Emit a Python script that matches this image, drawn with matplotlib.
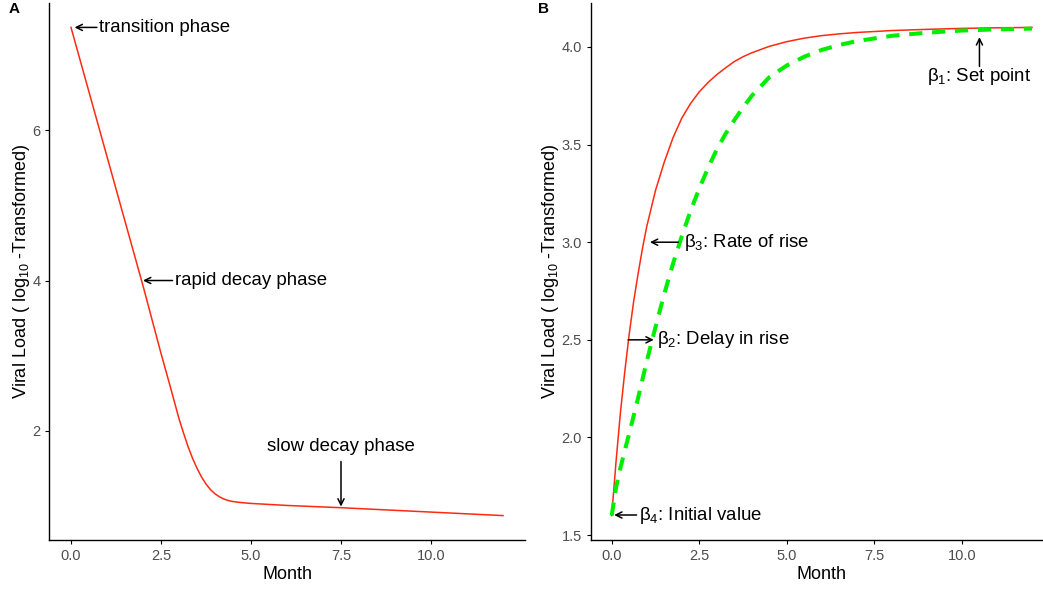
import matplotlib.pyplot as plt

plt.rcParams['font.family'] = ['Liberation Sans', 'DejaVu Sans']
plt.rcParams['mathtext.default'] = 'regular'
plt.rcParams['mathtext.fontset'] = 'dejavuserif'

# panel A : decay curve
month_a = [0, 0.5, 1.0, 1.5, 2.0, 2.5, 2.75, 3.0, 3.125, 3.25, 3.375, 3.5,
           3.625, 3.75, 3.875, 4.0, 4.125, 4.25, 4.375, 4.5, 4.75, 5.0,
           6.0, 7.5, 9.0, 10.5, 12.0]
load_a = [7.37, 6.51, 5.65, 4.79, 3.93, 3.03, 2.60, 2.16, 1.97, 1.79, 1.635, 1.50,
          1.385, 1.29, 1.215, 1.16, 1.12, 1.09, 1.07, 1.057, 1.042, 1.032,
          1.005, 0.975, 0.94, 0.905, 0.87]

# panel B : rise curves
month_b = [0, 0.125, 0.25, 0.375, 0.5, 0.625, 0.75, 0.875, 1.0, 1.25, 1.5, 1.75,
           2.0, 2.25, 2.5, 2.75, 3.0, 3.25, 3.5, 3.75, 4.0, 4.5, 5.0, 5.5,
           6.0, 6.5, 7.0, 8.0, 9.0, 10.0, 11.0, 12.0]
rise_fast = [1.60, 1.88, 2.13, 2.34, 2.53, 2.695, 2.835, 2.965, 3.08, 3.265, 3.41, 3.535,
             3.635, 3.71, 3.77, 3.818, 3.858, 3.893, 3.925, 3.95, 3.97, 4.003, 4.027, 4.045,
             4.058, 4.067, 4.074, 4.084, 4.09, 4.095, 4.098, 4.10]
rise_slow = [1.60, 1.745, 1.845, 1.935, 2.02, 2.11, 2.20, 2.295, 2.39, 2.565, 2.735, 2.89,
             3.03, 3.16, 3.275, 3.38, 3.475, 3.555, 3.625, 3.69, 3.75, 3.845, 3.905, 3.95,
             3.985, 4.01, 4.03, 4.057, 4.073, 4.084, 4.09, 4.094]

W, H = 1043, 589
fig = plt.figure(figsize=(W / 100, H / 100), dpi=100)

ylab = 'Viral Load ( log$_{10}$ -Transformed)'
tick_col = '#4D4D4D'
arrow = dict(arrowstyle='->', lw=1.1, color='black', shrinkA=0, shrinkB=0,
             mutation_scale=11)
fs = 13.4


def expand(vals, frac):
    lo, hi = min(vals), max(vals)
    pad = (hi - lo) * frac
    return lo - pad, hi + pad


def style(ax):
    for s in ['top', 'right']:
        ax.spines[s].set_visible(False)
    for s in ['left', 'bottom']:
        ax.spines[s].set_linewidth(1.0)
    ax.tick_params(colors='black', labelcolor=tick_col, labelsize=10.5,
                   length=3, width=0.8)
    ax.set_xlabel('Month', fontsize=13, labelpad=2)
    ax.set_ylabel(ylab, fontsize=13, labelpad=0.5)
    ax.set_xlim(expand(month_a, 0.05))
    ax.set_xticks([0, 2.5, 5.0, 7.5, 10.0])
    ax.set_xticklabels(['0.0', '2.5', '5.0', '7.5', '10.0'])


# ---- A
ax1 = fig.add_axes([49.4 / W, 49 / H, 475.2 / W, 537 / H])
ax1.plot(month_a, load_a, color='#FF2A0F', lw=1.1)
style(ax1)
ax1.set_ylim(expand(load_a, 0.05))
ax1.set_yticks([2, 4, 6])

ax1.annotate('', xy=(0.1, 7.37), xytext=(0.72, 7.37), arrowprops=arrow)
ax1.text(0.78, 7.37, 'transition phase', fontsize=fs, va='center', ha='left')
ax1.annotate('', xy=(2.0, 4.0), xytext=(2.82, 4.0), arrowprops=arrow)
ax1.text(2.9, 4.0, 'rapid decay phase', fontsize=fs, va='center', ha='left')
ax1.annotate('', xy=(7.5, 0.99), xytext=(7.5, 1.59), arrowprops=arrow)
ax1.text(7.5, 1.79, 'slow decay phase', fontsize=fs, va='center', ha='center')

# ---- B
ax2 = fig.add_axes([590.7 / W, 49 / H, 462.3 / W, 537 / H])
ax2.plot(month_b, rise_fast, color='#FF2A0F', lw=1.1)
ax2.plot(month_b, rise_slow, color='#00EE00', lw=2.9, dashes=(3.3, 2.4),
         dash_capstyle='butt')
style(ax2)
ax2.set_ylim(expand(rise_fast, 0.05))
ax2.set_yticks([1.5, 2.0, 2.5, 3.0, 3.5, 4.0])
ax2.set_yticklabels(['1.5', '2.0', '2.5', '3.0', '3.5', '4.0'])

ax2.annotate('', xy=(10.5, 4.05), xytext=(10.5, 3.90), arrowprops=arrow)
ax2.text(10.5, 3.85, r'$\beta_1$: Set point', fontsize=fs, va='center', ha='center')
ax2.annotate('', xy=(1.09, 3.0), xytext=(1.9, 3.0), arrowprops=arrow)
ax2.text(2.05, 3.0, r'$\beta_3$: Rate of rise', fontsize=fs, va='center', ha='left')
ax2.annotate('', xy=(1.2, 2.5), xytext=(0.47, 2.5), arrowprops=arrow)
ax2.text(1.3, 2.5, r'$\beta_2$: Delay in rise', fontsize=fs, va='center', ha='left')
ax2.annotate('', xy=(0.07, 1.603), xytext=(0.71, 1.603), arrowprops=arrow)
ax2.text(0.77, 1.603, r'$\beta_4$: Initial value', fontsize=fs, va='center', ha='left')

fig.text(9 / W, 1 - 2 / H, 'A', fontsize=11, fontweight='bold', va='top', ha='left')
fig.text(538 / W, 1 - 2 / H, 'B', fontsize=11, fontweight='bold', va='top', ha='left')

fig.savefig('out.png', dpi=100, facecolor='white')
